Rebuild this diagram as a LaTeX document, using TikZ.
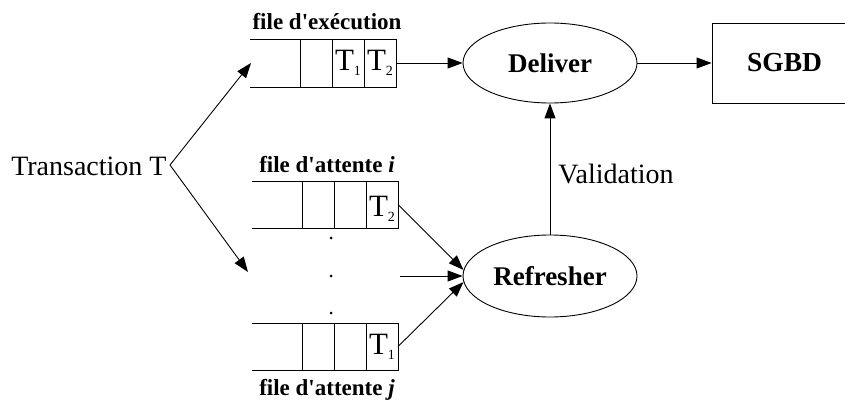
\documentclass[tikz,border=0pt]{standalone}
\usepackage{fontspec}
\setmainfont{Liberation Serif}
\usetikzlibrary{arrows.meta,shapes.geometric}
\newcommand\tsub[1]{T\raisebox{-5pt}{\fontsize{14}{14}\selectfont #1}}
\begin{document}
\begin{tikzpicture}[x=1pt,y=-1pt,line width=0.9pt,
  cell/.style={draw,minimum width=32pt,minimum height=48pt,inner sep=0pt,outer sep=0pt,font=\fontsize{31}{31}\selectfont},
  arr/.style={-{Triangle[length=15pt,width=11pt]}},
  proc/.style={draw,ellipse,inner sep=0pt,minimum width=174pt,minimum height=80pt,font=\fontsize{27}{30}\selectfont\bfseries},
  lbl/.style={font=\fontsize{23}{26}\selectfont\bfseries,inner sep=0pt},
  txt/.style={font=\fontsize{28}{30}\selectfont,inner sep=0pt},
  dot/.style={circle,fill,inner sep=0pt,minimum size=3pt}]
\useasboundingbox (0,0) rectangle (845,401);

% execution queue
\node[cell] (a2) at (316,63) {};
\node[cell] (a3) at (348,63) {\tsub{1}};
\node[cell] (a4) at (380,63) {\tsub{2}};
\draw (250,39) -- (a2.north west);
\draw (250,87) -- (a2.south west);
\node[lbl,anchor=base] (lexe) at (327,30) {file d\textquotesingle exécution};

% waiting queue i
\node[cell,minimum height=47pt] (b2) at (318,204.5) {};
\node[cell,minimum height=47pt] (b3) at (350,204.5) {};
\node[cell,minimum height=47pt,text height=29pt] (b4) at (382,204.5) {\tsub{2}};
\draw (252,181) -- (b2.north west);
\draw (252,228) -- (b2.south west);
\node[lbl,anchor=base] (li) at (327,172) {file d\textquotesingle attente {\itshape i}};

% waiting queue j
\node[cell,minimum height=47pt] (c2) at (318,346.5) {};
\node[cell,minimum height=47pt] (c3) at (350,346.5) {};
\node[cell,minimum height=47pt] (c4) at (382,346.5) {\tsub{1}};
\draw (252,323) -- (c2.north west);
\draw (252,370) -- (c2.south west);
\node[lbl,anchor=base] (lj) at (327,395) {file d\textquotesingle attente {\itshape j}};

% dots
\node[dot] (d1) at (331,238) {};
\node[dot] (d2) at (331,276) {};
\node[dot] (d3) at (331,313) {};

% transaction
\node[txt,anchor=base east] (trans) at (167,175) {Transaction T};
\coordinate (apex) at (170,165);
\coordinate (tipA) at (251,63);
\coordinate (tipB) at (248,272);
\draw[arr] (apex) -- (tipA);
\draw[arr] (apex) -- (tipB);

% processes
\node[proc] (deliver) at (550,63) {Deliver};
\node[proc,minimum height=82pt] (refresher) at (550,276) {Refresher};
\node[draw,inner sep=0pt,minimum width=145pt,minimum height=80pt,font=\fontsize{27.5}{30}\selectfont\bfseries] (sgbd) at (784.5,63) {SGBD};

\draw[arr] (a4.east) -- (deliver.west);
\draw[arr] (deliver.east) -- (sgbd.west);
\draw[arr] (refresher.north) -- (deliver.south);
\node[txt,anchor=base west] (valid) at (558,183) {Validation};

\coordinate (mid) at (400,276);
\draw[arr] (b4.east) -- (refresher.176);
\draw[arr] (mid) -- (refresher.west);
\draw[arr] (c4.east) -- (refresher.184);
\end{tikzpicture}
\end{document}
